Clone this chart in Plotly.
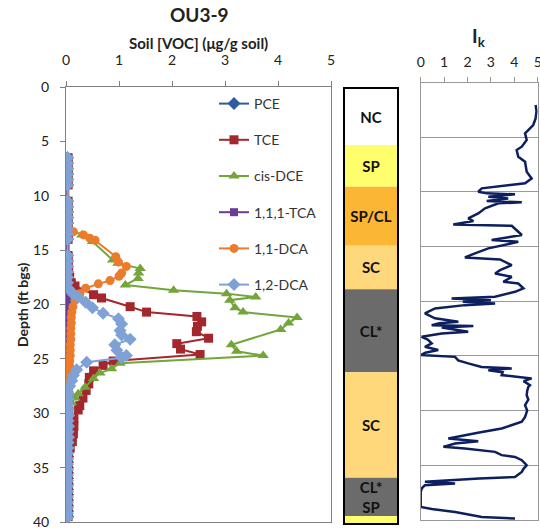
import plotly.graph_objects as go

# ---------------- data ----------------
# shared background sample depths (ft bgs) where most VOCs are ~0
core_depth = [6.5, 7.0, 7.5, 8.0, 8.5, 9.0,
              10.5, 11.0, 11.5, 12.0, 12.5, 13.0, 13.5, 14.0,
              15.5, 16.0, 16.5, 17.0, 17.5, 18.0, 18.5, 19.0, 19.5, 20.0,
              20.5, 21.0, 21.5, 22.0, 22.5, 23.0, 23.5, 24.0, 24.5, 25.0,
              25.5, 26.0, 26.5, 27.0, 27.5, 28.0, 28.5, 29.0, 29.5, 30.0,
              30.5, 31.0, 31.5, 32.0, 32.5, 33.0, 33.5, 34.0, 34.5, 35.0,
              35.5, 36.0, 36.5, 37.0, 37.5, 38.0, 38.5, 39.0, 39.5]
pce_val = [0.03, 0.03, 0.03, 0.03, 0.03, 0.03,
           0.03, 0.03, 0.03, 0.03, 0.03, 0.03, 0.03, 0.03,
           0.03, 0.03, 0.03, 0.03, 0.03, 0.02, 0.02, 0.02, 0.02, 0.02,
           0.02, 0.02, 0.02, 0.02, 0.02, 0.02, 0.02, 0.02, 0.02, 0.02,
           0.02, 0.02, 0.02, 0.02, 0.02, 0.02, 0.02, 0.02, 0.02, 0.02,
           0.02, 0.02, 0.02, 0.02, 0.02, 0.02, 0.03, 0.03, 0.03, 0.03,
           0.03, 0.03, 0.03, 0.03, 0.03, 0.03, 0.03, 0.03, 0.03]
tca111_val = [0.02, 0.02, 0.02, 0.02, 0.02, 0.02,
              0.02, 0.02, 0.02, 0.02, 0.02, 0.02, 0.02, 0.02,
              0.02, 0.02, 0.02, 0.02, 0.02, 0.01, 0.0, 0.0, 0.0, 0.0,
              0.01, 0.01, 0.01, 0.01, 0.01, 0.01, 0.01, 0.01, 0.01, 0.01,
              0.01, 0.01, 0.01, 0.01, 0.01, 0.01, 0.01, 0.01, 0.01, 0.01,
              0.01, 0.01, 0.01, 0.01, 0.01, 0.01, 0.02, 0.02, 0.02, 0.02,
              0.02, 0.02, 0.02, 0.02, 0.02, 0.02, 0.02, 0.02, 0.02]

tce_depth = [6.5, 7.0, 7.5, 8.0, 8.5, 9.0,
             10.5, 11.0, 11.5, 12.0, 12.5, 13.0, 13.5, 14.0,
             15.5, 16.0, 16.5, 17.0, 17.5, 18.0, 18.3, 19.1, 19.4, 20.2,
             20.7, 21.1, 21.6, 22.0, 22.5, 23.1, 23.6, 24.1, 24.6, 25.2,
             25.6, 26.1, 26.7, 27.3, 27.9, 28.6, 29.3, 29.7, 30.5, 31.2,
             31.9, 32.6, 33.2, 33.8, 34.5, 35.0, 35.5, 36.0, 36.5, 37.0,
             37.5, 38.0, 38.5, 39.0, 39.5]
tce_val = [0.04, 0.04, 0.04, 0.04, 0.04, 0.04,
           0.04, 0.04, 0.04, 0.04, 0.04, 0.04, 0.04, 0.04,
           0.04, 0.04, 0.04, 0.05, 0.07, 0.10, 0.17, 0.52, 0.67, 1.21,
           1.52, 2.47, 2.56, 2.48, 2.46, 2.69, 2.09, 2.16, 2.53, 0.89,
           0.70, 0.52, 0.44, 0.43, 0.38, 0.32, 0.26, 0.23, 0.15, 0.15,
           0.14, 0.12, 0.08, 0.05, 0.04, 0.04, 0.04, 0.04, 0.04, 0.04,
           0.04, 0.04, 0.04, 0.04, 0.04]

dce_depth = [6.5, 7.0, 7.5, 8.0, 8.5, 9.0,
             10.5, 11.0, 11.5, 12.0, 12.5, 13.0, 13.6, 14.2,
             15.9, 16.2, 16.7, 17.1, 17.6, 18.2, 18.7, 19.0, 19.3, 19.6,
             20.3, 20.7, 21.2, 21.7, 22.3, 23.7, 24.3, 24.7, 25.4, 25.9,
             26.3, 26.8, 27.6, 28.2, 28.6, 29.0, 29.5, 30.0, 30.5, 31.0,
             31.5, 32.0, 32.5, 33.0, 33.5, 34.0, 34.5, 35.0, 35.5, 36.0,
             36.5, 37.0, 37.5, 38.0, 38.5, 39.0, 39.5]
dce_val = [0.03, 0.03, 0.03, 0.03, 0.03, 0.03,
           0.03, 0.03, 0.03, 0.03, 0.03, 0.04, 0.30, 0.50,
           0.88, 0.98, 1.40, 1.37, 1.36, 1.12, 2.03, 3.03, 3.58, 3.09,
           3.19, 3.34, 4.36, 4.20, 4.05, 3.12, 3.22, 3.72, 1.02, 0.86,
           0.64, 0.52, 0.36, 0.23, 0.17, 0.10, 0.06, 0.04, 0.03, 0.03,
           0.03, 0.03, 0.03, 0.03, 0.03, 0.03, 0.03, 0.03, 0.03, 0.03,
           0.03, 0.03, 0.03, 0.03, 0.03, 0.03, 0.03]

dca11_depth = [6.5, 7.0, 7.5, 8.0, 8.5, 9.0,
               10.5, 11.0, 11.5, 12.0, 12.5, 13.0, 13.3, 13.6, 13.9, 14.1,
               15.6, 16.1, 16.5, 17.1, 17.4, 17.8, 18.1, 18.5, 19.0, 19.6,
               20.2, 20.7, 21.2, 21.7, 22.2, 22.7, 23.2, 23.7, 24.2, 24.7,
               25.2, 25.7, 26.2, 26.7, 27.2, 27.7, 28.2, 28.7, 29.2, 29.7,
               30.5, 31.0, 31.5, 32.0, 32.5, 33.0, 33.5, 34.0, 34.5, 35.0,
               35.5, 36.0, 36.5, 37.0, 37.5, 38.0, 38.5, 39.0, 39.5]
dca11_val = [0.03, 0.03, 0.03, 0.03, 0.03, 0.03,
             0.03, 0.03, 0.03, 0.03, 0.03, 0.04, 0.14, 0.33, 0.45, 0.55,
             0.94, 0.99, 1.14, 1.05, 1.00, 0.83, 0.61, 0.37, 0.26, 0.17,
             0.13, 0.11, 0.10, 0.10, 0.09, 0.09, 0.09, 0.08, 0.08, 0.08,
             0.07, 0.07, 0.06, 0.06, 0.05, 0.05, 0.04, 0.04, 0.04, 0.03,
             0.03, 0.03, 0.03, 0.03, 0.03, 0.03, 0.03, 0.03, 0.03, 0.03,
             0.03, 0.03, 0.03, 0.03, 0.03, 0.03, 0.03, 0.03, 0.03]

dca12_depth = [6.5, 7.0, 7.5, 8.0, 8.5, 9.0,
               10.5, 11.0, 11.5, 12.0, 12.5, 13.0, 13.5, 14.0,
               15.5, 16.0, 16.5, 17.0, 17.5, 18.0, 18.6, 19.0, 19.3, 19.8,
               20.3, 20.8, 21.3, 21.8, 22.4, 22.8, 23.2, 23.7, 24.2, 24.7,
               24.9, 25.3, 26.0, 26.5, 27.0, 27.5, 28.2, 28.7, 29.2, 29.7,
               30.2, 30.7, 31.2, 31.7, 32.2, 32.7, 33.2, 33.7, 34.2, 34.7,
               35.2, 35.7, 36.2, 36.7, 37.2, 37.7, 38.2, 38.7, 39.2, 39.6]
dca12_val = [0.03, 0.03, 0.03, 0.03, 0.03, 0.03,
             0.03, 0.03, 0.03, 0.03, 0.03, 0.03, 0.03, 0.03,
             0.03, 0.03, 0.03, 0.03, 0.03, 0.03, 0.06, 0.13, 0.23, 0.37,
             0.50, 0.70, 0.99, 1.05, 1.02, 1.05, 1.21, 0.92, 0.96, 1.14,
             1.05, 0.39, 0.20, 0.14, 0.11, 0.07, 0.05, 0.04, 0.04, 0.04,
             0.05, 0.04, 0.05, 0.04, 0.05, 0.04, 0.04, 0.03, 0.03, 0.03,
             0.03, 0.03, 0.03, 0.03, 0.03, 0.03, 0.03, 0.03, 0.03, 0.03]

# lithology column
lith_top = [0.0, 5.16, 9.0, 14.44, 18.46, 26.1, 35.82, 39.35]
lith_bottom = [5.16, 9.0, 14.44, 18.46, 26.1, 35.82, 39.35, 40.0]
lith_label = ["NC", "SP", "SP/CL", "SC", "CL*", "SC", "CL*<br>SP", " "]
lith_color = ["#FFFFFF", "#FFFF6E", "#FBB634", "#FFD87C", "#6B6B6B",
              "#FFD87C", "#6B6B6B", "#FFFF6E"]

# Ik log
ik_depth = [2.05, 2.6, 3.27, 3.88, 4.18, 4.64, 5.25, 5.86, 6.17, 6.78,
            7.24, 8.15, 8.76, 9.21, 9.67, 9.98, 10.13, 10.22, 10.44, 10.59,
            10.83, 10.95, 11.04, 11.5, 11.96, 12.42, 12.66, 12.97, 13.09, 13.5,
            13.94, 14.4, 14.55, 14.7, 15.16, 15.62, 15.99, 16.17, 16.69, 17.15,
            17.45, 17.76, 18.22, 18.37, 18.82, 19.13, 19.59, 19.75, 19.9, 20.05,
            20.19, 20.35, 20.65, 21.1, 21.56, 21.87, 22.0, 22.18, 22.27, 22.39,
            22.6, 22.79, 22.94, 23.25, 23.5, 23.85, 24.16, 24.46, 24.7, 24.92,
            25.08, 25.4, 25.68, 26.0, 26.14, 26.3, 26.5, 26.75, 27.05, 27.3,
            27.67, 27.82, 28.2, 28.58, 29.0, 29.5, 30.0, 30.57, 31.02, 31.63,
            32.0, 32.24, 32.55, 32.79, 33.0, 33.31, 33.46, 33.77, 34.07, 34.23,
            34.53, 34.99, 35.3, 35.6, 36.06, 36.2, 36.36, 36.51, 36.66, 36.82,
            37.1, 37.43, 38.0, 38.8, 39.0, 39.26, 39.72, 39.87]
ik_val = [4.91, 4.95, 4.91, 4.81, 4.67, 4.46, 4.53, 4.32, 4.10, 4.17,
          4.46, 4.53, 4.74, 4.46, 2.61, 2.46, 2.82, 4.03, 2.89, 3.74,
          2.82, 4.32, 3.32, 2.75, 2.46, 2.03, 2.25, 1.39, 3.89, 4.10,
          4.32, 3.03, 4.17, 3.89, 2.89, 2.32, 1.89, 3.39, 3.89, 3.39,
          3.18, 3.89, 3.53, 4.17, 4.39, 4.03, 3.18, 1.32, 3.00, 1.80,
          3.18, 1.89, 0.61, 0.18, 0.61, 1.61, 0.80, 0.47, 2.25, 0.90,
          1.50, 2.03, 0.90, 0.04, 0.30, 0.47, 0.18, 0.75, 0.20, 0.00,
          1.47, 1.60, 2.03, 2.60, 3.89, 2.89, 3.50, 3.46, 4.74, 4.40,
          4.67, 4.60, 4.55, 4.53, 4.60, 4.46, 4.55, 4.46, 4.32, 3.46,
          2.50, 1.89, 1.18, 2.46, 1.47, 0.97, 1.89, 3.18, 3.46, 4.03,
          4.32, 4.53, 4.40, 4.32, 4.03, 2.50, 1.47, 0.18, 1.47, 0.18,
          0.05, 0.00, 0.00, 0.00, 0.47, 1.47, 2.61, 4.03]

voc_ticks = [0, 1, 2, 3, 4, 5]
depth_ticks = [0, 5, 10, 15, 20, 25, 30, 35, 40]

# ---------------- figure ----------------
W, H = 540, 531
def px(x):
    return x / W
def py(y):
    return 1 - y / H

FONT = "Lato"
fig = go.Figure()

series = [
    ("PCE", core_depth, pce_val, "#2F5C9E", "diamond", 10),
    ("TCE", tce_depth, tce_val, "#A3272D", "square", 9),
    ("cis-DCE", dce_depth, dce_val, "#73A53B", "triangle-up", 10),
    ("1,1,1-TCA", core_depth, tca111_val, "#6B3C96", "square", 8),
    ("1,1-DCA", dca11_depth, dca11_val, "#EC7B2C", "circle", 9),
    ("1,2-DCA", dca12_depth, dca12_val, "#7FA1D6", "diamond", 10),
]
for i, (name, d, v, c, sym, sz) in enumerate(series):
    fig.add_trace(go.Scatter(
        x=v, y=d, name=name, mode="lines+markers",
        line=dict(color=c, width=2), marker=dict(color=c, symbol=sym, size=sz),
        legendgroup=f"g{i}", xaxis="x", yaxis="y"))

fig.add_trace(go.Bar(
    x=[0] * len(lith_top), base=lith_top,
    y=[b - t for t, b in zip(lith_top, lith_bottom)],
    width=1, marker=dict(color=lith_color, line=dict(width=0)),
    text=lith_label, textposition="inside", insidetextanchor="middle",
    textangle=0, constraintext="none",
    textfont=dict(family=FONT, size=15, color="#111111", weight="bold"),
    showlegend=False, xaxis="x2", yaxis="y2", hoverinfo="skip"))

fig.add_trace(go.Scatter(
    x=ik_val, y=ik_depth, mode="lines", line=dict(color="#0D1F5E", width=2.5),
    showlegend=False, xaxis="x3", yaxis="y3"))

axis_font = dict(family=FONT, size=14, color="#222222")
fig.update_layout(
    template="none",
    width=W, height=H, margin=dict(l=0, r=0, t=0, b=0, autoexpand=False),
    paper_bgcolor="white", plot_bgcolor="white",
    font=dict(family=FONT, color="#222222"),
    showlegend=True,
    legend=dict(x=px(214), y=py(88), xanchor="left", yanchor="top",
                bgcolor="rgba(0,0,0,0)", font=dict(family=FONT, size=14, color="#333333"),
                tracegroupgap=15, itemwidth=30, borderwidth=0),
    barmode="overlay",
    xaxis=dict(domain=[px(66), px(331)], range=[0, 5], side="top", anchor="y",
               tickvals=voc_ticks, ticks="outside", ticklen=5, tickcolor="#808080",
               showline=True, mirror=True, linecolor="#808080", linewidth=1,
               showgrid=False, zeroline=False, tickfont=axis_font, ticklabelstandoff=10,
               automargin=False, ticklabeloverflow="allow"),
    yaxis=dict(domain=[py(522), py(87)], range=[40, 0], anchor="x",
               tickvals=depth_ticks, ticks="outside", ticklen=5, tickcolor="#808080",
               showline=True, mirror=True, linecolor="#808080", linewidth=1,
               showgrid=False, zeroline=False, tickfont=axis_font, ticklabelstandoff=8,
               automargin=False, ticklabeloverflow="allow"),
    xaxis2=dict(domain=[px(345), px(397)], range=[-0.5, 0.5], anchor="y2",
                showline=True, mirror=True, linecolor="black", linewidth=2,
                showticklabels=False, ticks="", showgrid=False, zeroline=False,
                automargin=False),
    yaxis2=dict(domain=[py(523), py(89)], range=[40, 0], anchor="x2",
                showline=True, mirror=True, linecolor="black", linewidth=2,
                showticklabels=False, ticks="", showgrid=False, zeroline=False,
                automargin=False),
    xaxis3=dict(domain=[px(420.7), px(537.7)], range=[0, 5], side="top", anchor="y3",
                tickvals=voc_ticks, ticks="outside", ticklen=5, tickcolor="#999999",
                showline=True, mirror=True, linecolor="#999999", linewidth=1,
                showgrid=False, zeroline=False, tickfont=axis_font, ticklabelstandoff=4,
                automargin=False, ticklabeloverflow="allow"),
    yaxis3=dict(domain=[py(520), py(82.6)], range=[40, 0], anchor="x3",
                tickvals=depth_ticks, showticklabels=False, ticks="",
                showline=True, mirror=True, linecolor="#999999", linewidth=1,
                showgrid=True, gridcolor="#999999", gridwidth=1, zeroline=False,
                automargin=False),
)

ann = dict(xref="paper", yref="paper", showarrow=False, xanchor="center",
           yanchor="middle")
fig.add_annotation(text="<b>OU3-9</b>", x=px(199), y=py(15),
                   font=dict(family=FONT, size=19, color="#222222"), **ann)
fig.add_annotation(text="<b>Soil [VOC] (μg/g soil)</b>", x=px(198.5), y=py(43),
                   font=dict(family=FONT, size=15, color="#222222"), **ann)
fig.add_annotation(text="<b>Depth (ft bgs)</b>", x=px(22), y=py(305), textangle=-90,
                   font=dict(family=FONT, size=14, color="#222222"), **ann)
fig.add_annotation(text="<b>I<sub>k</sub></b>", x=px(479), y=py(37),
                   font=dict(family=FONT, size=19, color="#222222"), **ann)

fig.write_html("out.html")
